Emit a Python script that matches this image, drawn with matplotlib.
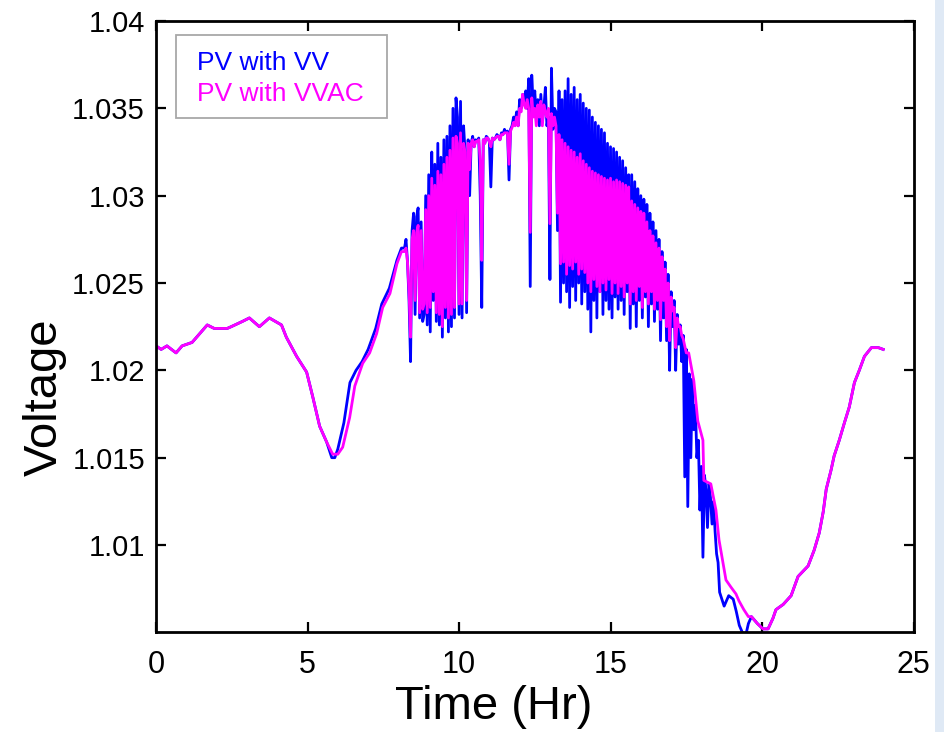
import numpy as np
import matplotlib.pyplot as plt
from matplotlib.patches import Rectangle

plt.rcParams['font.family'] = ['Liberation Sans', 'DejaVu Sans']

# shared night/morning part (both controllers identical)
t_morning = [0.0, 0.17, 0.36, 0.66, 0.86, 1.19, 1.69, 1.92, 2.35, 2.48, 2.85, 3.08,
             3.41, 3.74, 4.14, 4.30, 4.64, 4.97, 5.17, 5.40, 5.63]
v_morning = [1.0214, 1.0212, 1.0214, 1.0210, 1.0214, 1.0216, 1.0226, 1.0224, 1.0224,
             1.0225, 1.0228, 1.0230, 1.0225, 1.0230, 1.0226, 1.0219, 1.0208, 1.0199,
             1.0185, 1.0168, 1.0159]

# early-morning recovery
t_rise_vv = [5.80, 5.90, 6.00, 6.20, 6.40, 6.60, 6.80, 7.00, 7.25, 7.45, 7.70, 7.95, 8.10]
v_rise_vv = [1.0150, 1.0150, 1.0155, 1.0170, 1.0193, 1.0200, 1.0205, 1.0212, 1.0224,
             1.0238, 1.0247, 1.0263, 1.0270]
t_rise_vvac = [5.83, 6.00, 6.16, 6.39, 6.56, 6.82, 7.05, 7.28, 7.48, 7.72, 7.95, 8.10]
v_rise_vvac = [1.0152, 1.0152, 1.0156, 1.0173, 1.0191, 1.0204, 1.0210, 1.0221, 1.0236,
               1.0244, 1.0261, 1.0268]

# daytime PV period, 0.05 hr samples from 8.20 to 17.50 (10 per row = 0.5 hr)
t_day = np.round(np.arange(8.2, 17.52, 0.05), 2)
v_day_vv = [
    1.0270, 1.0275, 1.0262, 1.0240, 1.0205, 1.0280, 1.0290, 1.0232, 1.0288, 1.0293,
    1.0230, 1.0285, 1.0228, 1.0232, 1.0300, 1.0226, 1.0312, 1.0222, 1.0325, 1.0240,
    1.0318, 1.0228, 1.0330, 1.0226, 1.0322, 1.0219, 1.0332, 1.0230, 1.0334, 1.0222,
    1.0340, 1.0225, 1.0350, 1.0230, 1.0356, 1.0345, 1.0232, 1.0354, 1.0230, 1.0340,
    1.0325, 1.0233, 1.0332, 1.0300, 1.0330, 1.0334, 1.0328, 1.0332, 1.0331, 1.0333,
    1.0300, 1.0236, 1.0332, 1.0330, 1.0334, 1.0333, 1.0331, 1.0305, 1.0333, 1.0332,
    1.0333, 1.0335, 1.0334, 1.0332, 1.0336, 1.0335, 1.0338, 1.0336, 1.0337, 1.0309,
    1.0338, 1.0340, 1.0345, 1.0342, 1.0348, 1.0340, 1.0355, 1.0350, 1.0358, 1.0352,
    1.0360, 1.0350, 1.0367, 1.0248, 1.0369, 1.0350, 1.0360, 1.0345, 1.0355, 1.0340,
    1.0358, 1.0342, 1.0350, 1.0362, 1.0340, 1.0345, 1.0252, 1.0373, 1.0338, 1.0350,
    1.0348, 1.0280, 1.0360, 1.0239, 1.0355, 1.0250, 1.0360, 1.0245, 1.0367, 1.0236,
    1.0358, 1.0248, 1.0362, 1.0240, 1.0355, 1.0250, 1.0358, 1.0238, 1.0353, 1.0245,
    1.0350, 1.0235, 1.0349, 1.0222, 1.0345, 1.0240, 1.0342, 1.0230, 1.0340, 1.0245,
    1.0338, 1.0232, 1.0336, 1.0240, 1.0330, 1.0235, 1.0328, 1.0230, 1.0327, 1.0242,
    1.0325, 1.0235, 1.0322, 1.0240, 1.0320, 1.0232, 1.0316, 1.0245, 1.0312, 1.0224,
    1.0312, 1.0238, 1.0308, 1.0225, 1.0304, 1.0240, 1.0300, 1.0230, 1.0298, 1.0242,
    1.0295, 1.0225, 1.0290, 1.0238, 1.0285, 1.0228, 1.0280, 1.0235, 1.0275, 1.0217,
    1.0268, 1.0230, 1.0262, 1.0217, 1.0255, 1.0200, 1.0245, 1.0225, 1.0240, 1.0200,
    1.0232, 1.0215, 1.0226, 1.0205, 1.0220, 1.0139, 1.0212]
v_day_vvac = [
    1.0268, 1.0270, 1.0262, 1.0245, 1.0219, 1.0275, 1.0280, 1.0240, 1.0279, 1.0283,
    1.0233, 1.0280, 1.0235, 1.0238, 1.0292, 1.0233, 1.0300, 1.0236, 1.0310, 1.0245,
    1.0306, 1.0233, 1.0314, 1.0232, 1.0312, 1.0225, 1.0318, 1.0236, 1.0322, 1.0230,
    1.0326, 1.0232, 1.0333, 1.0236, 1.0334, 1.0330, 1.0238, 1.0336, 1.0238, 1.0330,
    1.0325, 1.0240, 1.0330, 1.0315, 1.0330, 1.0332, 1.0328, 1.0331, 1.0331, 1.0332,
    1.0320, 1.0263, 1.0332, 1.0330, 1.0333, 1.0333, 1.0331, 1.0328, 1.0333, 1.0332,
    1.0333, 1.0334, 1.0334, 1.0332, 1.0335, 1.0335, 1.0336, 1.0336, 1.0336, 1.0318,
    1.0337, 1.0339, 1.0342, 1.0340, 1.0345, 1.0340, 1.0350, 1.0348, 1.0358, 1.0352,
    1.0350, 1.0355, 1.0350, 1.0279, 1.0356, 1.0345, 1.0350, 1.0340, 1.0352, 1.0345,
    1.0354, 1.0340, 1.0352, 1.0348, 1.0345, 1.0350, 1.0284, 1.0347, 1.0340, 1.0345,
    1.0340, 1.0290, 1.0335, 1.0261, 1.0332, 1.0262, 1.0330, 1.0255, 1.0328, 1.0260,
    1.0326, 1.0258, 1.0325, 1.0262, 1.0322, 1.0255, 1.0324, 1.0258, 1.0320, 1.0256,
    1.0318, 1.0250, 1.0316, 1.0245, 1.0314, 1.0252, 1.0313, 1.0248, 1.0312, 1.0245,
    1.0311, 1.0250, 1.0310, 1.0246, 1.0309, 1.0252, 1.0310, 1.0244, 1.0308, 1.0250,
    1.0309, 1.0244, 1.0308, 1.0248, 1.0307, 1.0242, 1.0306, 1.0250, 1.0305, 1.0238,
    1.0297, 1.0245, 1.0295, 1.0240, 1.0293, 1.0248, 1.0291, 1.0236, 1.0290, 1.0245,
    1.0285, 1.0238, 1.0280, 1.0245, 1.0277, 1.0235, 1.0273, 1.0240, 1.0270, 1.0229,
    1.0265, 1.0240, 1.0258, 1.0225, 1.0250, 1.0217, 1.0242, 1.0234, 1.0236, 1.0213,
    1.0230, 1.0225, 1.0225, 1.0220, 1.0218, 1.0214, 1.0210]

# evening drop
t_eve_vv = [17.55, 17.60, 17.65, 17.70, 17.75, 17.80, 17.85, 17.90, 17.95, 18.00, 18.05,
            18.10, 18.15, 18.20, 18.25, 18.30, 18.35, 18.40, 18.45, 18.50, 18.55, 18.60,
            18.75, 18.90, 19.05, 19.15, 19.25, 19.35, 19.42, 19.55]
v_eve_vv = [1.0122, 1.0198, 1.0150, 1.0195, 1.0166, 1.0180, 1.0150, 1.0160, 1.0120, 1.0145,
            1.0093, 1.0140, 1.0132, 1.0110, 1.0135, 1.0127, 1.0112, 1.0125, 1.0108, 1.0095,
            1.0090, 1.0073, 1.0065, 1.0071, 1.0069, 1.0062, 1.0054, 1.0050, 1.0045, 1.0055]
t_eve_vvac = [17.58, 17.75, 17.88, 18.05, 18.08, 18.31, 18.48, 18.58, 18.71, 18.81, 18.97,
              19.14, 19.24, 19.40, 19.55]
v_eve_vvac = [1.0210, 1.0194, 1.0171, 1.0160, 1.0137, 1.0135, 1.0120, 1.0103, 1.0090, 1.0080,
              1.0076, 1.0072, 1.0068, 1.0063, 1.0059]

# shared night part
t_night = [19.65, 19.85, 20.03, 20.20, 20.36, 20.46, 20.70, 20.96, 21.19, 21.52, 21.72, 21.89,
           22.02, 22.12, 22.28, 22.38, 22.55, 22.72, 22.88, 23.05, 23.21, 23.38, 23.61, 23.84,
           24.0]
v_night = [1.0059, 1.0055, 1.0052, 1.0052, 1.0058, 1.0063, 1.0066, 1.0071, 1.0082, 1.0088,
           1.0097, 1.0107, 1.0119, 1.0132, 1.0143, 1.0151, 1.0160, 1.0170, 1.0179, 1.0193,
           1.0200, 1.0208, 1.0213, 1.0213, 1.0212]

y_ticks = [1.01, 1.015, 1.02, 1.025, 1.03, 1.035, 1.04]
y_ticklabels = ['1.01', '1.015', '1.02', '1.025', '1.03', '1.035', '1.04']
x_ticks = [0, 5, 10, 15, 20, 25]
labels = ['PV with VV', 'PV with VVAC']
colors = ['#0000ff', '#ff00ff']

t_vv = np.concatenate([t_morning, t_rise_vv, t_day, t_eve_vv, t_night])
v_vv = np.concatenate([v_morning, v_rise_vv, v_day_vv, v_eve_vv, v_night])
t_vvac = np.concatenate([t_morning, t_rise_vvac, t_day, t_eve_vvac, t_night])
v_vvac = np.concatenate([v_morning, v_rise_vvac, v_day_vvac, v_eve_vvac, v_night])

fig = plt.figure(figsize=(9.44, 7.32), dpi=100)
ax = fig.add_axes([0.1653, 0.1366, 0.8024, 0.8347])

ax.plot(t_vv, v_vv, color=colors[0], lw=2.0, label=labels[0])
ax.plot(t_vvac, v_vvac, color=colors[1], lw=2.0, label=labels[1])

ax.set_xlim(0, 25)
ax.set_ylim(1.00502, 1.04)
ax.set_xticks(x_ticks)
ax.set_yticks(y_ticks)
ax.set_yticklabels(y_ticklabels)
ax.tick_params(direction='in', length=7, width=1.6, top=True, right=True)
ax.tick_params(axis='x', pad=13, labelsize=22)
ax.tick_params(axis='y', pad=8, labelsize=21)
for s in ax.spines.values():
    s.set_linewidth(2.0)

ax.set_xlabel('Time (Hr)', fontsize=34)
ax.set_ylabel('Voltage', fontsize=34)
ax.xaxis.set_label_coords(0.446, -0.086)
ax.yaxis.set_label_coords(-0.118, 0.385)

# MATLAB-style legend: grey box with coloured text, no line samples
ax.add_patch(Rectangle((0.0264, 0.841), 0.2786, 0.136, transform=ax.transAxes,
                       facecolor='white', edgecolor='#a8a8a8', lw=1.3, zorder=5))
for lab, col, yb in zip(labels, colors, [0.9198, 0.869]):
    ax.text(0.0541, yb, lab, color=col, fontsize=19, va='baseline', ha='left',
            transform=ax.transAxes, zorder=6)

# light strip on the right edge of the page
fig.patches.append(Rectangle((0.9905, 0), 0.0095, 1, transform=fig.transFigure,
                             facecolor='#dfe9f5', edgecolor='none'))

fig.savefig('out.png', dpi=100, facecolor='white')
